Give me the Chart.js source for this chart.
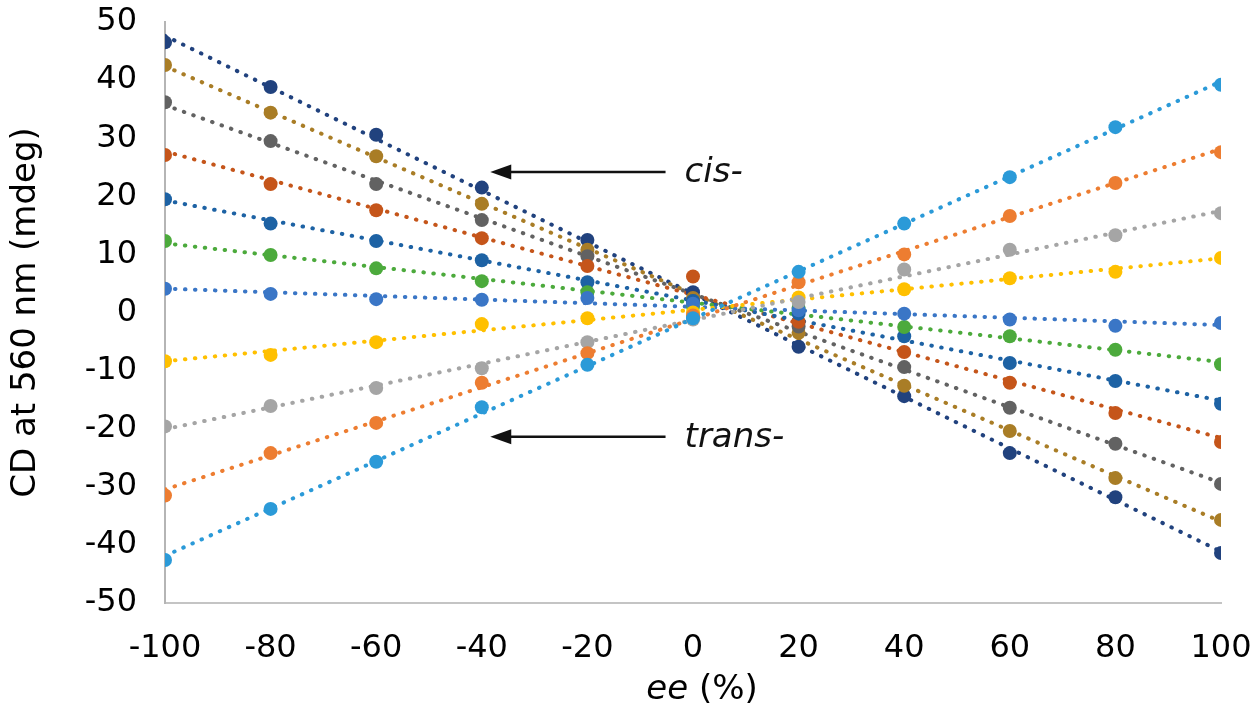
<!DOCTYPE html>
<html>
<head>
<meta charset="utf-8">
<script src="https://cdn.jsdelivr.net/npm/chart.js@4/dist/chart.umd.min.js"></script>
<style>
  html, body { margin: 0; padding: 0; background: #fff; }
  #wrap { width: 1260px; height: 722px; }
</style>
</head>
<body>
<div id="wrap"><canvas id="cdChart" width="1260" height="722"></canvas></div>
<script>
// ee values (%) on the x axis
const eeValues = [-100, -80, -60, -40, -20, 0, 20, 40, 60, 80, 100];

// CD readings (mdeg), one list per sample series
const navySeries   = [46.5, 38.8, 30.6, 21.5, 12.5, 3.5, -5.9, -14.4, -24.2, -31.8, -41.4];
const goldSeries   = [42.6, 34.4, 26.9, 18.7, 10.8, 2.5, -3.5, -12.6, -20.4, -28.5, -35.7];
const dgraySeries  = [36.2, 29.5, 22.1, 15.9, 9.7, 2.0, -2.4, -9.4, -16.4, -22.6, -29.5];
const redSeries    = [27.1, 22.1, 17.6, 12.8, 8.0, 6.2, -1.6, -6.8, -12.1, -17.3, -22.3];
const dblueSeries  = [19.5, 15.3, 12.3, 9.0, 5.2, 2.0, -0.2, -4.1, -8.7, -11.8, -15.7];
const greenSeries  = [12.3, 9.9, 7.6, 5.4, 3.5, 1.0, 0.8, -2.5, -4.1, -6.4, -8.9];
const blueSeries   = [4.1, 3.2, 2.3, 2.2, 2.5, 1.5, 0.4, -0.2, -1.2, -2.3, -1.8];
const yellowSeries = [-8.4, -7.3, -5.1, -2.0, -1.0, 0.0, 2.6, 4.0, 5.9, 7.0, 9.4];
const lgraySeries  = [-19.6, -16.1, -13.0, -9.6, -5.1, -1.2, 1.8, 7.4, 10.8, 13.3, 17.1];
const orangeSeries = [-31.5, -24.2, -19.0, -12.1, -7.0, -0.5, 5.2, 10.0, 16.6, 22.3, 27.6];
const lblueSeries  = [-42.6, -33.8, -25.7, -16.3, -9.0, -1.0, 7.0, 15.3, 23.3, 31.9, 39.2];

const xTickValues = [-100, -80, -60, -40, -20, 0, 20, 40, 60, 80, 100];
const yTickValues = [-50, -40, -30, -20, -10, 0, 10, 20, 30, 40, 50];

// series drawn first end up underneath
const seriesList = [
  { values: lblueSeries,  color: "#2b9ad8" },
  { values: orangeSeries, color: "#ed7d31" },
  { values: lgraySeries,  color: "#a5a5a5" },
  { values: yellowSeries, color: "#ffc000" },
  { values: blueSeries,   color: "#3a76c6" },
  { values: greenSeries,  color: "#4caa3c" },
  { values: dblueSeries,  color: "#1d62a4" },
  { values: redSeries,    color: "#c5551a" },
  { values: dgraySeries,  color: "#626262" },
  { values: goldSeries,   color: "#a97d26" },
  { values: navySeries,   color: "#21427e" }
];

// arrow notes, in data units
const notes = [
  { text: "cis-",   tipX: -38.4, tailX: -5.2, y: 24.2, textX: -1.6 },
  { text: "trans-", tipX: -38.4, tailX: -5.2, y: -21.4, textX: -1.6 }
];

// x axis title: italic part, then upright part
const xTitleItalic = "ee";
const xTitleRest = " (%)";

const FONT = "'DejaVu Sans', sans-serif";

// least squares line like the Excel trendline
function linearFit(xs, ys) {
  const n = xs.length;
  let sx = 0, sy = 0, sxx = 0, sxy = 0;
  for (let i = 0; i < n; i++) {
    sx += xs[i]; sy += ys[i];
    sxx += xs[i] * xs[i]; sxy += xs[i] * ys[i];
  }
  const slope = (n * sxy - sx * sy) / (n * sxx - sx * sx);
  const icpt = (sy - slope * sx) / n;
  return { slope, icpt };
}

const datasets = [];
seriesList.forEach((s) => {
  const fit = linearFit(eeValues, s.values);
  const x0 = eeValues[0], x1 = eeValues[eeValues.length - 1];
  datasets.push({
    type: "line",
    data: [
      { x: x0, y: fit.icpt + fit.slope * x0 },
      { x: x1, y: fit.icpt + fit.slope * x1 }
    ],
    borderColor: s.color,
    borderWidth: 4,
    borderDash: [0.5, 9.5],
    borderCapStyle: "round",
    pointRadius: 0,
    fill: false,
    order: 2
  });
});
seriesList.forEach((s) => {
  datasets.push({
    type: "scatter",
    data: eeValues.map((x, i) => ({ x: x, y: s.values[i] })),
    backgroundColor: s.color,
    borderColor: s.color,
    borderWidth: 0,
    pointRadius: 7,
    order: 1
  });
});

const notesPlugin = {
  id: "notes",
  afterDatasetsDraw(chart) {
    const ctx = chart.ctx;
    const xs = chart.scales.x, ys = chart.scales.y;
    ctx.save();
    notes.forEach((n) => {
      const tip = xs.getPixelForValue(n.tipX);
      const tail = xs.getPixelForValue(n.tailX);
      const py = ys.getPixelForValue(n.y);
      ctx.strokeStyle = "#111";
      ctx.fillStyle = "#111";
      ctx.lineWidth = 2.5;
      ctx.beginPath();
      ctx.moveTo(tail, py);
      ctx.lineTo(tip + 18, py);
      ctx.stroke();
      ctx.beginPath();
      ctx.moveTo(tip, py);
      ctx.lineTo(tip + 21, py - 7.5);
      ctx.lineTo(tip + 21, py + 7.5);
      ctx.closePath();
      ctx.fill();
      ctx.font = "oblique 34px " + FONT;
      ctx.textBaseline = "middle";
      ctx.textAlign = "left";
      ctx.fillText(n.text, xs.getPixelForValue(n.textX), py + 1);
    });

    // x axis title with the italic "ee"
    const italicFont = "oblique 34px " + FONT;
    const plainFont = "34px " + FONT;
    ctx.font = italicFont;
    const w1 = ctx.measureText(xTitleItalic).width;
    ctx.font = plainFont;
    const w2 = ctx.measureText(xTitleRest).width;
    const cx = (chart.chartArea.left + chart.chartArea.right) / 2 + 9;
    const ty = 690;
    let tx = cx - (w1 + w2) / 2;
    ctx.fillStyle = "#000";
    ctx.textBaseline = "middle";
    ctx.textAlign = "left";
    ctx.font = italicFont;
    ctx.fillText(xTitleItalic, tx, ty);
    ctx.font = plainFont;
    ctx.fillText(xTitleRest, tx + w1, ty);
    ctx.restore();
  }
};

new Chart(document.getElementById("cdChart"), {
  type: "scatter",
  data: { datasets: datasets },
  options: {
    responsive: false,
    animation: false,
    layout: { padding: { top: 22, right: 39, left: 0, bottom: 0 } },
    plugins: {
      legend: { display: false },
      tooltip: { enabled: false }
    },
    scales: {
      x: {
        type: "linear",
        min: -100,
        max: 100,
        afterBuildTicks: (axis) => { axis.ticks = xTickValues.map((v) => ({ value: v })); },
        afterFit: (axis) => {
          axis.height = 119;
          axis.paddingLeft = 0;
          axis.paddingRight = 0;
        },
        grid: { display: false, drawTicks: false },
        border: { display: true, color: "#c4c4c4", width: 2 },
        ticks: {
          color: "#000",
          padding: 26,
          font: { family: FONT, size: 32 },
          maxRotation: 0,
          autoSkip: false
        },
        title: { display: false }
      },
      y: {
        type: "linear",
        min: -50,
        max: 50,
        afterBuildTicks: (axis) => { axis.ticks = yTickValues.map((v) => ({ value: v })); },
        afterFit: (axis) => {
          axis.width = 165;
          axis.paddingTop = 0;
          axis.paddingBottom = 0;
        },
        grid: { display: false, drawTicks: false },
        border: { display: true, color: "#b5b5b5", width: 2 },
        ticks: {
          color: "#000",
          padding: 28,
          font: { family: FONT, size: 32 },
          autoSkip: false
        },
        title: {
          display: true,
          text: "CD at 560 nm (mdeg)",
          color: "#000",
          padding: { top: 6, bottom: 0 },
          font: { family: FONT, size: 34 }
        }
      }
    }
  },
  plugins: [notesPlugin]
});
</script>
</body>
</html>
